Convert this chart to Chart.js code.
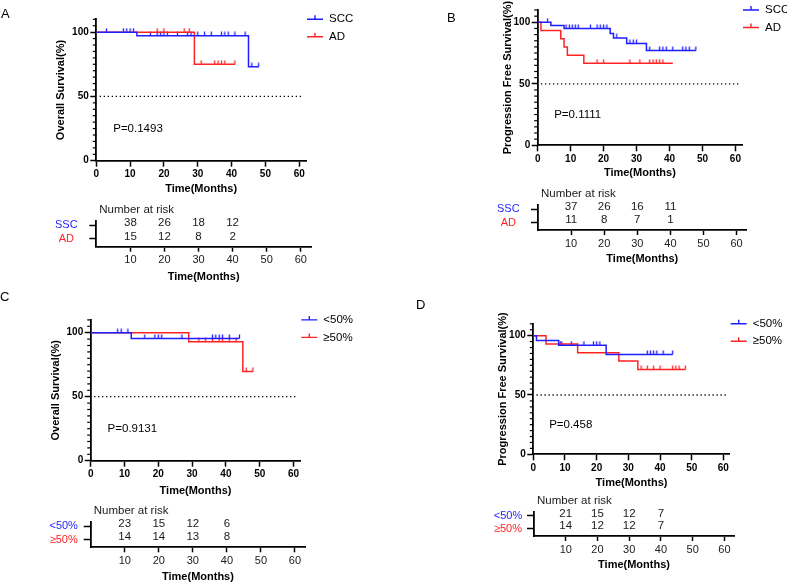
<!DOCTYPE html>
<html>
<head>
<meta charset="utf-8">
<title>Survival curves</title>
<script src="https://cdn.jsdelivr.net/npm/chart.js@4.4.1/dist/chart.umd.min.js"></script>
<style>
  html, body { margin: 0; padding: 0; background: #fff; overflow: hidden; }
  #page { position: relative; width: 787px; height: 585px; overflow: hidden; }
  canvas { position: absolute; }
  .tag { position: absolute; font: 13px 'Liberation Sans', Arial, sans-serif; color: #000; z-index: 2; }
</style>
</head>
<body>
<div id="page">
  <div class="tag" style="left:1px;top:6px">A</div>
  <div class="tag" style="left:447px;top:10px">B</div>
  <div class="tag" style="left:0px;top:289px">C</div>
  <div class="tag" style="left:416px;top:297px">D</div>

  <canvas id="kmA" width="390" height="200" style="left:0;top:0"></canvas>
  <canvas id="riskA" width="390" height="93" style="left:0;top:195px"></canvas>
  <canvas id="kmB" width="397" height="184" style="left:390px;top:0"></canvas>
  <canvas id="riskB" width="397" height="90" style="left:390px;top:180px"></canvas>
  <canvas id="kmC" width="390" height="212" style="left:0;top:290px"></canvas>
  <canvas id="riskC" width="390" height="93" style="left:0;top:495px"></canvas>
  <canvas id="kmD" width="397" height="204" style="left:390px;top:290px"></canvas>
  <canvas id="riskD" width="397" height="96" style="left:390px;top:480px"></canvas>
</div>
<script>
const BLUE = 'rgb(30,30,255)';
const RED = 'rgb(255,35,35)';
Chart.defaults.font.family = "'Liberation Sans', Arial, sans-serif";
Chart.defaults.color = '#000';

const timeTitle = 'Time(Months)';
const riskTitle = 'Number at risk';
const riskTimes = [10, 20, 30, 40];
const refLine = [1, 61];   // dotted 50% line

// Panel A - overall survival, SCC vs AD
const aNames = ['SCC', 'AD'];
const aSccT = [0, 12, 45, 48];
const aSccS = [100, 97.3, 73, 73];
const aSccCens = [3, 8, 9, 10, 11, 16, 18, 19, 20, 21, 24, 27, 28, 30, 32, 34, 37, 38, 39, 41, 44, 46, 48];
const aAdT = [0, 29, 41];
const aAdS = [100, 75, 75];
const aAdCens = [18, 20, 26, 27.5, 31, 35, 36, 37, 38, 41];
const aP = 'P=0.1493';
const aRiskNames = ['SSC', 'AD'];
const aRiskTop = [38, 26, 18, 12];
const aRiskBottom = [15, 12, 8, 2];

// Panel B - progression free survival, SCC vs AD
const bNames = ['SCC', 'AD'];
const bSccT = [0, 4, 8, 22, 23, 27, 33, 48];
const bSccS = [100, 97.4, 95, 90.8, 87.3, 82.7, 77, 77];
const bSccCens = [3, 8.6, 9.6, 10.5, 11.4, 12.3, 16, 18, 19, 20, 21, 24, 28, 29, 30, 34, 37, 38, 39, 41, 44, 45, 46, 48];
const bAdT = [0, 1, 7, 8, 9, 14, 41];
const bAdS = [100, 93.3, 86.7, 80, 73.3, 66.7, 66.7];
const bAdCens = [18, 20, 28, 31, 34, 35, 36, 37, 38];
const bP = 'P=0.1111';
const bRiskNames = ['SSC', 'AD'];
const bRiskTop = [37, 26, 16, 11];
const bRiskBottom = [11, 8, 7, 1];

// Panel C - overall survival, <50% vs >=50%
const cNames = ['<50%', '≥50%'];
const cLowT = [0, 12, 44];
const cLowS = [100, 95.5, 95.5];
const cLowCens = [8, 9, 11, 16, 19, 20, 21, 27, 36, 37, 38, 39, 41, 44];
const cHighT = [0, 29, 45, 48];
const cHighS = [100, 92.9, 69.6, 69.6];
const cHighCens = [32, 34, 36, 38, 39, 41, 43, 46, 48];
const cP = 'P=0.9131';
const cRiskTop = [23, 15, 12, 6];
const cRiskBottom = [14, 14, 13, 8];

// Panel D - progression free survival, <50% vs >=50%
const dNames = ['<50%', '≥50%'];
const dLowT = [0, 1, 8, 23, 44];
const dLowS = [100, 96, 92, 84.2, 84.2];
const dLowCens = [8.5, 9, 12, 16, 19, 20, 21, 36, 37, 38, 39, 41, 44];
const dHighT = [0, 4, 14, 27, 33, 48];
const dHighS = [100, 92.9, 85.7, 78.6, 71.4, 71.4];
const dHighCens = [34, 36, 38, 40, 44, 45, 46, 48];
const dP = 'P=0.458';
const dRiskTop = [21, 15, 12, 7];
const dRiskBottom = [14, 12, 12, 7];

// value of the step curve at time t (used to place censor ticks)
function survAt(times, surv, t) {
    let s = surv[0];
    for (let i = 0; i < times.length; i++) {
        if (times[i] <= t) s = surv[i];
    }
    return s;
}

function tickImage(color) {
    const c = document.createElement('canvas');
    c.width = 3;
    c.height = 9;
    const g = c.getContext('2d');
    g.strokeStyle = color;
    g.lineWidth = 1.3;
    g.beginPath();
    g.moveTo(1.5, 0.5);
    g.lineTo(1.5, 4.5);
    g.stroke();
    return c;
}

function axisStyle() {
    return {
        grid: { drawOnChartArea: false, tickLength: 6, tickWidth: 1.5, tickColor: '#000' },
        border: { color: '#000', width: 1.8 }
    };
}

function makeKM(id, cfg) {
    const datasets = [];
    cfg.curves.forEach(c => {
        datasets.push({
            label: c.label,
            data: c.t.map((t, i) => ({ x: t, y: c.s[i] })),
            borderColor: c.color,
            borderWidth: 1.5,
            stepped: 'before',
            pointRadius: 0,
            fill: false
        });
    });
    cfg.curves.forEach(c => {
        datasets.push({
            data: c.cens.map(t => ({ x: t, y: survAt(c.t, c.s, t) })),
            showLine: false,
            pointStyle: tickImage(c.color),
            pointRadius: 3
        });
    });
    datasets.push({
        data: refLine.map(x => ({ x: x, y: 50 })),
        borderColor: '#000',
        borderWidth: 1.3,
        borderDash: [1.3, 2.7],
        pointRadius: 0
    });

    const extras = {
        id: 'kmExtras',
        afterDraw(chart) {
            const ctx = chart.ctx;
            const a = chart.chartArea;
            const ys = chart.scales.y;
            const xs = chart.scales.x;
            ctx.save();
            // minor y ticks
            ctx.strokeStyle = '#000';
            ctx.lineWidth = 1.2;
            for (let v = 5; v <= 110; v += 5) {
                if (v % 50 === 0) continue;
                const y = ys.getPixelForValue(v);
                ctx.beginPath();
                ctx.moveTo(a.left - 3.5, y);
                ctx.lineTo(a.left, y);
                ctx.stroke();
            }
            // p value
            ctx.fillStyle = '#000';
            ctx.font = "11.5px 'Liberation Sans', Arial, sans-serif";
            ctx.textAlign = 'left';
            ctx.textBaseline = 'middle';
            ctx.fillText(cfg.p, xs.getPixelForValue(5), ys.getPixelForValue(25));
            // legend
            cfg.curves.forEach((c, i) => {
                const y = a.top + i * 17.5;
                ctx.strokeStyle = c.color;
                ctx.lineWidth = 1.4;
                ctx.beginPath();
                ctx.moveTo(a.right + 1, y);
                ctx.lineTo(a.right + 17, y);
                ctx.moveTo(a.right + 9, y);
                ctx.lineTo(a.right + 9, y - 4);
                ctx.stroke();
                ctx.fillStyle = '#000';
                ctx.fillText(c.label, a.right + 23, y);
            });
            ctx.restore();
        }
    };

    const ax = axisStyle();
    new Chart(document.getElementById(id), {
        type: 'line',
        data: { datasets: datasets },
        options: {
            responsive: false,
            animation: false,
            devicePixelRatio: 1,
            layout: { padding: cfg.pad },
            plugins: { legend: { display: false }, tooltip: { enabled: false } },
            scales: {
                x: {
                    type: 'linear', min: 0, max: 62,
                    afterFit: s => { s.height = cfg.xh; },
                    ticks: { stepSize: 10, includeBounds: false, font: { size: 10, weight: 'bold' }, color: '#000', padding: 2, maxRotation: 0 },
                    grid: ax.grid, border: ax.border,
                    title: { display: true, text: timeTitle, font: { size: 11, weight: 'bold' }, color: '#000' }
                },
                y: {
                    type: 'linear', min: 0, max: 110,
                    afterFit: s => { s.width = cfg.yw; },
                    ticks: { stepSize: 50, includeBounds: false, font: { size: 10, weight: 'bold' }, color: '#000', padding: 1.5 },
                    grid: ax.grid, border: ax.border,
                    title: { display: true, text: cfg.yTitle, font: { size: 11, weight: 'bold' }, color: '#000' }
                }
            }
        },
        plugins: [extras]
    });
}

function makeRisk(id, cfg) {
    const datasets = cfg.rows.map((counts, r) => ({
        label: cfg.names[r],
        data: riskTimes.map((t, i) => ({ x: t, y: 2 - r, n: counts[i] })),
        showLine: false,
        pointRadius: 0
    }));

    const numbers = {
        id: 'riskNumbers',
        afterDatasetsDraw(chart) {
            const ctx = chart.ctx;
            const a = chart.chartArea;
            ctx.save();
            ctx.font = "11.5px 'Liberation Sans', Arial, sans-serif";
            ctx.fillStyle = '#1a1a1a';
            ctx.textBaseline = 'middle';
            ctx.textAlign = 'left';
            ctx.fillText(riskTitle, a.left + 3, a.top - 11);
            ctx.textAlign = 'center';
            chart.data.datasets.forEach((ds, di) => {
                chart.getDatasetMeta(di).data.forEach((el, i) => {
                    ctx.fillText(String(ds.data[i].n), el.x, el.y - 2.5);
                });
            });
            ctx.restore();
        }
    };

    const ax = axisStyle();
    new Chart(document.getElementById(id), {
        type: 'line',
        data: { datasets: datasets },
        options: {
            responsive: false,
            animation: false,
            devicePixelRatio: 1,
            layout: { padding: cfg.pad },
            plugins: { legend: { display: false }, tooltip: { enabled: false } },
            scales: {
                x: {
                    type: 'linear', min: 0, max: 63,
                    afterFit: s => { s.height = cfg.xh; },
                    afterBuildTicks: s => { s.ticks = s.ticks.filter(t => t.value > 0); },
                    ticks: { stepSize: 10, includeBounds: false, font: { size: 11 }, color: '#1a1a1a', padding: 2, maxRotation: 0 },
                    grid: { drawOnChartArea: false, tickLength: 5, tickWidth: 1.5, tickColor: '#000' },
                    border: ax.border,
                    title: { display: true, text: timeTitle, font: { size: 11, weight: 'bold' }, color: '#000' }
                },
                y: {
                    type: 'linear', min: 0.43, max: 2.33,
                    afterFit: s => { s.width = cfg.yw; },
                    afterBuildTicks: s => { s.ticks = [{ value: 1 }, { value: 2 }]; },
                    ticks: {
                        callback: v => cfg.names[2 - v],
                        color: c => cfg.colors[2 - c.tick.value],
                        font: { size: 11 },
                        crossAlign: 'center',
                        padding: cfg.labPad
                    },
                    grid: { drawOnChartArea: false, tickLength: 7, tickWidth: 1.5, tickColor: '#000' },
                    border: ax.border
                }
            }
        },
        plugins: [numbers]
    });
}

makeKM('kmA', {
    yTitle: 'Overall Survival(%)', p: aP,
    pad: { left: 50, right: 84, top: 19.3, bottom: 0 }, yw: 46.3, xh: 39.3,
    curves: [
        { label: aNames[0], color: BLUE, t: aSccT, s: aSccS, cens: aSccCens },
        { label: aNames[1], color: RED, t: aAdT, s: aAdS, cens: aAdCens }
    ]
});
makeRisk('riskA', {
    names: aRiskNames, colors: [BLUE, RED], rows: [aRiskTop, aRiskBottom],
    pad: { left: 40, right: 79, top: 26, bottom: 0 }, yw: 56.3, xh: 41.3, labPad: 11.7
});

makeKM('kmB', {
    yTitle: 'Progression Free Survival(%)', p: bP,
    pad: { left: 107, right: 45, top: 10, bottom: 0 }, yw: 40.7, xh: 38.7,
    curves: [
        { label: bNames[0], color: BLUE, t: bSccT, s: bSccS, cens: bSccCens },
        { label: bNames[1], color: RED, t: bAdT, s: bAdS, cens: bAdCens }
    ]
});
makeRisk('riskB', {
    names: bRiskNames, colors: [BLUE, RED], rows: [bRiskTop, bRiskBottom],
    pad: { left: 100, right: 40.5, top: 25, bottom: 0 }, yw: 48, xh: 40, labPad: 11.4
});

makeKM('kmC', {
    yTitle: 'Overall Survival(%)', p: cP,
    pad: { left: 45, right: 89.7, top: 29.9, bottom: 0 }, yw: 45.7, xh: 41.3,
    curves: [
        { label: cNames[0], color: BLUE, t: cLowT, s: cLowS, cens: cLowCens },
        { label: cNames[1], color: RED, t: cHighT, s: cHighS, cens: cHighCens }
    ]
});
makeRisk('riskC', {
    names: cNames, colors: [BLUE, RED], rows: [cRiskTop, cRiskBottom],
    pad: { left: 35, right: 84.8, top: 26.7, bottom: 0 }, yw: 55.7, xh: 40.7, labPad: 5.8
});

makeKM('kmD', {
    yTitle: 'Progression Free Survival(%)', p: dP,
    pad: { left: 102, right: 57.3, top: 33.8, bottom: 0 }, yw: 41.3, xh: 39.7,
    curves: [
        { label: dNames[0], color: BLUE, t: dLowT, s: dLowS, cens: dLowCens },
        { label: dNames[1], color: RED, t: dHighT, s: dHighS, cens: dHighCens }
    ]
});
makeRisk('riskD', {
    names: dNames, colors: [BLUE, RED], rows: [dRiskTop, dRiskBottom],
    pad: { left: 95, right: 53, top: 31.7, bottom: 0 }, yw: 49, xh: 40, labPad: 4.8
});
</script>
</body>
</html>
